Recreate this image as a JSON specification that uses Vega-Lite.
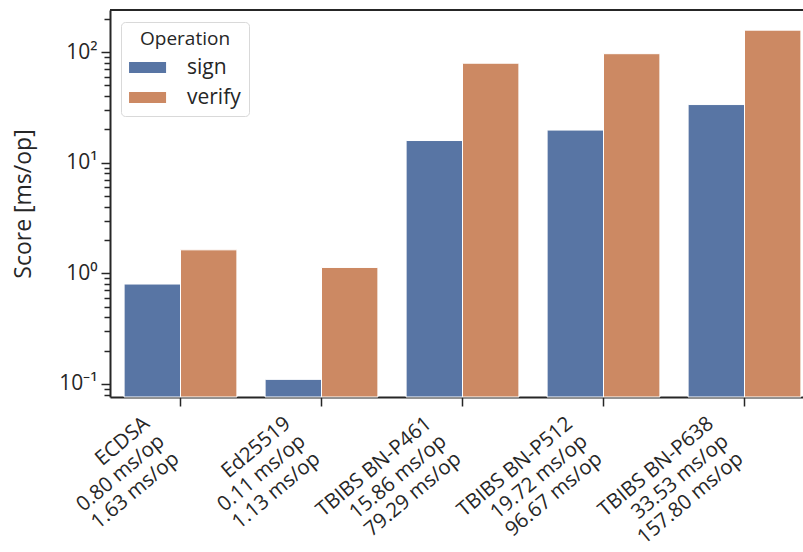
{
  "$schema": "https://vega.github.io/schema/vega-lite/v6.json",
  "width": 693,
  "height": 387,
  "autosize": {"type": "none"},
  "padding": {"left": 110, "top": 10, "right": 0, "bottom": 155},
  "background": "white",
  "config": {"font": "Open Sans", "view": {"stroke": null}, "axis": {"grid": false}},
  "data": {
    "values": [
      {"scheme": "ECDSA|0.80 ms/op|1.63 ms/op", "op": "sign", "score": 0.80},
      {"scheme": "ECDSA|0.80 ms/op|1.63 ms/op", "op": "verify", "score": 1.63},
      {"scheme": "Ed25519|0.11 ms/op|1.13 ms/op", "op": "sign", "score": 0.11},
      {"scheme": "Ed25519|0.11 ms/op|1.13 ms/op", "op": "verify", "score": 1.13},
      {"scheme": "TBIBS BN-P461|15.86 ms/op|79.29 ms/op", "op": "sign", "score": 15.86},
      {"scheme": "TBIBS BN-P461|15.86 ms/op|79.29 ms/op", "op": "verify", "score": 79.29},
      {"scheme": "TBIBS BN-P512|19.72 ms/op|96.67 ms/op", "op": "sign", "score": 19.72},
      {"scheme": "TBIBS BN-P512|19.72 ms/op|96.67 ms/op", "op": "verify", "score": 96.67},
      {"scheme": "TBIBS BN-P638|33.53 ms/op|157.80 ms/op", "op": "sign", "score": 33.53},
      {"scheme": "TBIBS BN-P638|33.53 ms/op|157.80 ms/op", "op": "verify", "score": 157.80}
    ]
  },
  "layer": [
    {
      "mark": {"type": "bar", "stroke": "white", "strokeWidth": 1},
      "encoding": {
        "x": {
          "field": "scheme", "type": "nominal", "sort": null,
          "scale": {"range": [0, 705], "paddingInner": 0.2, "paddingOuter": 0.1},
          "axis": {
            "title": null,
            "labelExpr": "split(datum.label, '|')",
            "labelAngle": -40, "labelAlign": "right", "labelBaseline": "top",
            "labelFontSize": 20.5, "labelLineHeight": 23,
            "labelOffset": -40, "labelPadding": 7,
            "tickSize": 9, "tickWidth": 1.5, "tickColor": "#262626",
            "domainColor": "#262626", "domainWidth": 2,
            "labelColor": "#262626", "labelOverlap": false, "labelBound": false,
            "labelLimit": 0, "labelFlush": false
          }
        },
        "xOffset": {"field": "op", "type": "nominal", "scale": {"paddingInner": 0, "paddingOuter": 0}},
        "y": {
          "field": "score", "type": "quantitative",
          "scale": {"type": "log", "domain": [0.0762, 240], "nice": false},
          "axis": {
            "title": "Score [ms/op]", "titleFontSize": 23, "titleFontWeight": "normal", "titleColor": "#262626", "titlePadding": 23,
            "values": [0.08, 0.09, 0.1, 0.2, 0.3, 0.4, 0.5, 0.6, 0.7, 0.8, 0.9, 1, 2, 3, 4, 5, 6, 7, 8, 9, 10, 20, 30, 40, 50, 60, 70, 80, 90, 100, 200],
            "labelExpr": "datum.value == 0.1 ? '10⁻¹' : datum.value == 1 ? '10⁰' : datum.value == 10 ? '10¹' : datum.value == 100 ? '10²' : ''",
            "tickSize": {"condition": {"test": "indexof([0.1, 1, 10, 100], datum.value) >= 0", "value": 9}, "value": 6},
            "tickWidth": 1.5, "tickColor": "#262626",
            "domainColor": "#262626", "domainWidth": 2,
            "labelFontSize": 21, "labelColor": "#262626", "labelPadding": 4,
            "labelOverlap": false, "labelBound": false
          }
        },
        "y2": {"datum": 0.0762},
        "color": {
          "field": "op", "type": "nominal",
          "scale": {"domain": ["sign", "verify"], "range": ["#5875a4", "#cc8963"]},
          "legend": {
            "title": "Operation", "orient": "none", "legendX": 11, "legendY": 12,
            "titleFontSize": 19, "titleFontWeight": "normal", "titleAnchor": "middle", "titleColor": "#262626",
            "labelFontSize": 21, "labelColor": "#262626",
            "symbolType": "M-1.9,-1h6.73v2h-6.73z", "symbolSize": 121, "symbolStrokeWidth": 0, "symbolOpacity": 1,
            "labelOffset": 37, "rowPadding": 8, "titlePadding": 8, "padding": 8,
            "fillColor": "white", "strokeColor": "#d9d9d9", "cornerRadius": 4
          }
        }
      }
    },
    {
      "mark": {"type": "rule", "color": "#262626", "strokeWidth": 2},
      "encoding": {"y": {"datum": 240, "type": "quantitative"}}
    }
  ]
}
